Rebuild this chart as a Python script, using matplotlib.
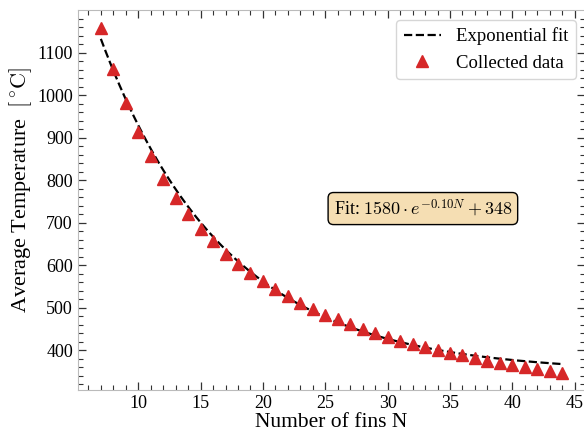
import numpy as np
import matplotlib
matplotlib.use("Agg")
import matplotlib.pyplot as plt
from matplotlib.ticker import MultipleLocator

# collected data
fins = [7, 8, 9, 10, 11, 12, 13, 14, 15, 16, 17, 18, 19, 20, 21, 22, 23, 24, 25,
        26, 27, 28, 29, 30, 31, 32, 33, 34, 35, 36, 37, 38, 39, 40, 41, 42, 43, 44]
avg_temp = [1159, 1061, 981, 914, 857, 804, 759, 720, 686, 656, 627, 604, 582,
            562, 544, 527, 511, 498, 484, 473, 461, 451, 440, 432, 422, 414, 407,
            400, 394, 388, 381, 375, 370, 365, 360, 355, 350, 347]

# fitted model parameters (shown in the annotation)
fit_a = 1580
fit_b = 0.10
fit_c = 348

plt.rcParams["font.family"] = ["Liberation Serif", "DejaVu Serif"]
plt.rcParams["mathtext.fontset"] = "cm"

fig = plt.figure(figsize=(5.84, 4.34), dpi=100)
ax = fig.add_axes([0.1332, 0.1014, 0.869, 0.8746])

n_fit = np.linspace(min(fins), max(fins), 200)
ax.plot(n_fit, fit_a * np.exp(-fit_b * n_fit) + fit_c, "k--", lw=1.6,
        label="Exponential fit")
ax.plot(fins, avg_temp, "^", color="#d62728", ms=8, ls="none",
        label="Collected data")

ax.set_xlabel("Number of fins N", fontsize=15.5, labelpad=1)
ax.set_ylabel(r"Average Temperature  $[^\circ\!\mathrm{C}]$", fontsize=16)
ax.yaxis.set_label_coords(-0.086, 0.527)

ax.xaxis.set_major_locator(MultipleLocator(5))
ax.xaxis.set_minor_locator(MultipleLocator(1))
ax.yaxis.set_major_locator(MultipleLocator(100))
ax.yaxis.set_minor_locator(MultipleLocator(20))
ax.tick_params(which="both", direction="in", top=True, right=True,
               labelsize=13, color="#333333")
ax.tick_params(which="major", length=6, width=0.9)
ax.tick_params(which="minor", length=3.5, width=0.8)
for sp in ax.spines.values():
    sp.set_color("#bbbbbb")

ax.text(0.68, 0.478, r"Fit: $1580 \cdot e^{-0.10N} + 348$", transform=ax.transAxes,
        ha="center", va="center", fontsize=13,
        bbox=dict(boxstyle="round,pad=0.3", facecolor="wheat", edgecolor="black"))

leg = ax.legend(loc="upper right", fontsize=13.5, frameon=True)
leg.get_frame().set_edgecolor("#cccccc")

fig.savefig("out.png", dpi=100)
